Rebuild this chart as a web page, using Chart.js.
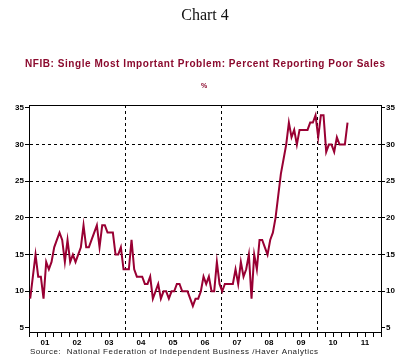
<!DOCTYPE html>
<html>
<head>
<meta charset="utf-8">
<script src="https://cdn.jsdelivr.net/npm/chart.js@4/dist/chart.umd.min.js"></script>
<style>
  body { margin: 0; background: #fff; }
  canvas { display: block; }
</style>
</head>
<body>
<canvas id="chart" width="412" height="361"></canvas>
<script>
// NFIB: percent reporting poor sales as single most important problem, monthly Jan 2001 - Dec 2010
var poorSales = [
    9, 12, 15, 12, 12, 9, 14, 13, 14, 16, 17, 18,       // 2001
    17, 14, 17, 14, 15, 14, 15, 16, 19, 16, 16, 17,     // 2002
    18, 19, 16, 19, 19, 18, 18, 18, 15, 15, 16, 13,     // 2003
    13, 13, 17, 13, 12, 12, 12, 11, 11, 12, 9, 10,      // 2004
    11, 9, 10, 10, 9, 10, 10, 11, 11, 10, 10, 10,       // 2005
    9, 8, 9, 9, 10, 12, 11, 12, 10, 10, 14, 11,         // 2006
    10, 11, 11, 11, 11, 13, 11, 14, 12, 13, 15, 9,      // 2007
    15, 13, 17, 17, 16, 15, 17, 18, 20, 23, 26, 28,     // 2008
    30, 33, 31, 32, 30, 32, 32, 32, 32, 33, 33, 34,     // 2009
    31, 34, 34, 29, 30, 30, 29, 31, 30, 30, 30, 33      // 2010
];
var firstYear = 2001;
var yearLabels = ['01', '02', '03', '04', '05', '06', '07', '08', '09', '10', '11'];
var yTicks = [5, 10, 15, 20, 25, 30, 35];
var gridYears = [2004, 2007, 2010];

var red = '#990033';
var labelFont = { family: 'Arial, "Liberation Sans"', size: 8, weight: 'bold' };

var points = poorSales.map(function(v, i) {
    return { x: firstYear + (i + 0.45) / 12, y: v };
});

// draw text stretched to a given width
function spacedText(ctx, text, x, y, width) {
    var w = ctx.measureText(text).width;
    ctx.letterSpacing = ((width - w) / (text.length - 1)) + 'px';
    ctx.fillText(text, x, y);
    ctx.letterSpacing = '0px';
}

var textPlugin = {
    id: 'texts',
    afterDraw: function(chart) {
        var ctx = chart.ctx;
        var area = chart.chartArea;
        ctx.save();
        // top frame line
        ctx.strokeStyle = '#000';
        ctx.lineWidth = 1;
        ctx.beginPath();
        ctx.moveTo(area.left, Math.round(area.top) + 0.5);
        ctx.lineTo(area.right, Math.round(area.top) + 0.5);
        ctx.stroke();

        ctx.textAlign = 'center';
        ctx.textBaseline = 'middle';
        ctx.fillStyle = '#111';
        ctx.font = '16px "Liberation Serif", "Times New Roman", serif';
        ctx.fillText('Chart 4', 205, 16);

        ctx.fillStyle = '#8b0a2e';
        ctx.font = 'bold 10px Arial, "Liberation Sans"';
        ctx.textAlign = 'left';
        spacedText(ctx, 'NFIB: Single Most Important Problem: Percent Reporting Poor Sales', 25, 64, 360);

        ctx.textAlign = 'center';
        ctx.font = 'bold 7px Arial, "Liberation Sans"';
        ctx.fillText('%', 204, 86);

        ctx.textAlign = 'left';
        ctx.fillStyle = '#222';
        ctx.font = '8px Arial, "Liberation Sans"';
        spacedText(ctx, 'Source:  National Federation of Independent Business /Haver Analytics', 30, 352, 288);
        ctx.restore();
    }
};

var ctx = document.getElementById('chart').getContext('2d');
var myChart = new Chart(ctx, {
    type: 'line',
    data: {
        datasets: [{
            data: points,
            borderColor: red,
            borderWidth: 2,
            pointRadius: 0,
            tension: 0,
            fill: false
        }]
    },
    options: {
        responsive: false,
        animation: false,
        layout: { padding: { top: 105, bottom: 0, left: 0, right: 0 } },
        plugins: {
            legend: { display: false },
            tooltip: { enabled: false }
        },
        scales: {
            x: {
                type: 'linear',
                min: firstYear,
                max: firstYear + yearLabels.length,
                afterBuildTicks: function(scale) {
                    var t = [];
                    for (var q = 0; q <= yearLabels.length * 4; q++) {
                        t.push({ value: firstYear + q / 4 });
                    }
                    scale.ticks = t;
                },
                afterFit: function(scale) { scale.height = 29; },
                ticks: {
                    autoSkip: false,
                    maxRotation: 0,
                    padding: 1,
                    color: '#000',
                    font: labelFont,
                    callback: function(v) {
                        var y = Math.floor(v + 1e-6);
                        if (Math.abs(v - y - 0.5) < 1e-6) return yearLabels[y - firstYear];
                        return '';
                    }
                },
                grid: {
                    color: function(c) {
                        var v = c.tick ? c.tick.value : null;
                        return gridYears.indexOf(Math.round(v * 4) / 4) >= 0 ? '#000' : 'rgba(0,0,0,0)';
                    },
                    tickColor: '#000',
                    tickLength: 5,
                    tickBorderDash: []
                },
                border: { color: '#000', width: 1, dash: [3, 3] }
            },
            y: {
                position: 'left',
                min: 4.45,
                max: 35.4,
                afterBuildTicks: function(scale) {
                    scale.ticks = yTicks.map(function(v) { return { value: v }; });
                },
                afterFit: function(scale) { scale.width = 29; },
                ticks: { padding: 1, color: '#000', font: labelFont },
                grid: {
                    color: function(c) {
                        var v = c.tick ? c.tick.value : null;
                        return (v > 5 && v < 35) ? '#000' : 'rgba(0,0,0,0)';
                    },
                    tickColor: '#000',
                    tickLength: 4,
                    tickBorderDash: []
                },
                border: { color: '#000', width: 1, dash: [3, 3] }
            },
            y2: {
                position: 'right',
                min: 4.45,
                max: 35.4,
                afterBuildTicks: function(scale) {
                    scale.ticks = yTicks.map(function(v) { return { value: v }; });
                },
                afterFit: function(scale) { scale.width = 31; },
                ticks: { padding: 1, color: '#000', font: labelFont },
                grid: {
                    drawOnChartArea: false,
                    color: '#000',
                    tickLength: 4
                },
                border: { color: '#000', width: 1 }
            }
        }
    },
    plugins: [textPlugin]
});
</script>
</body>
</html>
